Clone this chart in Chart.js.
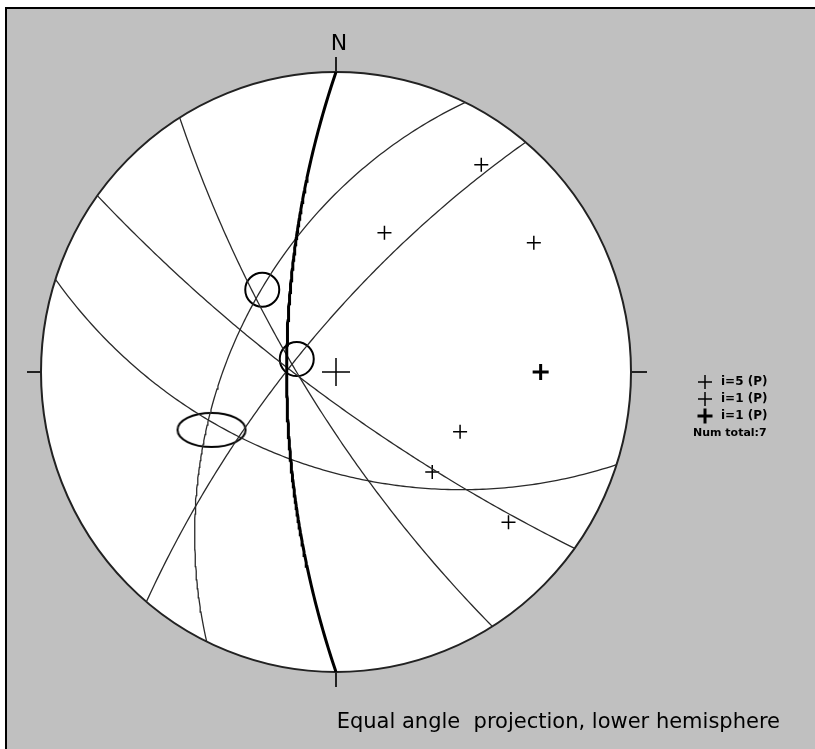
<!DOCTYPE html>
<html>
<head>
<meta charset="utf-8">
<script src="https://cdn.jsdelivr.net/npm/chart.js@4.4.0/dist/chart.umd.min.js"></script>
<style>
  html, body { margin: 0; padding: 0; background: #ffffff; }
  #wrap { position: relative; width: 815px; height: 749px; }
</style>
</head>
<body>
<div id="wrap"><canvas id="net" width="815" height="749"></canvas></div>
<script>
const planeDipDir = [270, 238, 216, 198, 310, 296];
const planeDip = [71, 77, 80, 54, 75, 51];

// poles (trend / plunge) shown as small crosses
const poleTrend = [19.5, 35.5, 57.3, 115.3, 135.6, 130.6];
const polePlunge = [37.6, 9.4, 12.9, 40.1, 40.0, 14.8];

// bold pole
const boldTrend = [90];
const boldPlunge = [20.5];

// intersections marked with circles / ellipse (net coordinates)
const circleMarkX = [-0.25, -0.133];
const circleMarkY = [0.274, 0.043];
const ellipseMarkX = [-0.422];
const ellipseMarkY = [-0.193];

const legendLabels = ['i=5 (P)', 'i=1 (P)', 'i=1 (P)'];
const totalLabel = 'Num total:7';
const northLabel = 'N';
const caption = 'Equal angle  projection, lower hemisphere';

const D2R = Math.PI / 180;

// stereographic (equal angle) projection of a downward unit vector
function project(e, n, z) {
    return { x: e / (1 + z), y: n / (1 + z) };
}

function polePoint(trend, plunge) {
    const t = trend * D2R, p = plunge * D2R;
    return project(Math.cos(p) * Math.sin(t), Math.cos(p) * Math.cos(t), Math.sin(p));
}

function greatCircle(dipDir, dip) {
    const a = dipDir * D2R, d = dip * D2R;
    const s = [Math.sin(a - Math.PI / 2), Math.cos(a - Math.PI / 2), 0];
    const v = [Math.cos(d) * Math.sin(a), Math.cos(d) * Math.cos(a), Math.sin(d)];
    const pts = [];
    for (let k = 0; k <= 180; k++) {
        const t = k * D2R;
        const e = Math.cos(t) * s[0] + Math.sin(t) * v[0];
        const n = Math.cos(t) * s[1] + Math.sin(t) * v[1];
        const z = Math.cos(t) * s[2] + Math.sin(t) * v[2];
        pts.push(project(e, n, Math.max(z, 0)));
    }
    return pts;
}

// ellipse image used as point style
const ellipseImg = document.createElement('canvas');
ellipseImg.width = 74;
ellipseImg.height = 38;
(function () {
    const c = ellipseImg.getContext('2d');
    c.strokeStyle = '#000';
    c.lineWidth = 2;
    c.beginPath();
    c.ellipse(37, 19, 34, 17, 0, 0, Math.PI * 2);
    c.stroke();
})();

const datasets = [];
planeDipDir.forEach((dd, i) => {
    datasets.push({
        data: greatCircle(dd, planeDip[i]),
        showLine: true,
        pointRadius: 0,
        borderColor: i === 0 ? '#000000' : '#2a2a2a',
        borderWidth: i === 0 ? 3 : 1.3,
        tension: 0
    });
});
datasets.push({
    data: poleTrend.map((t, i) => polePoint(t, polePlunge[i])),
    pointStyle: 'cross',
    pointRadius: 7,
    borderWidth: 1.5,
    borderColor: '#000'
});
datasets.push({
    data: boldTrend.map((t, i) => polePoint(t, boldPlunge[i])),
    pointStyle: 'cross',
    pointRadius: 8,
    borderWidth: 3,
    borderColor: '#000'
});
// centre of the net
datasets.push({
    data: [{ x: 0, y: 0 }],
    pointStyle: 'cross',
    pointRadius: 14,
    borderWidth: 1.5,
    borderColor: '#000'
});
datasets.push({
    data: circleMarkX.map((x, i) => ({ x: x, y: circleMarkY[i] })),
    pointStyle: 'circle',
    pointRadius: 17,
    borderWidth: 2,
    borderColor: '#000',
    backgroundColor: 'rgba(0,0,0,0)'
});
datasets.push({
    data: ellipseMarkX.map((x, i) => ({ x: x, y: ellipseMarkY[i] })),
    pointStyle: ellipseImg,
    pointRadius: 17
});

const netPlugin = {
    id: 'net',
    beforeDraw(chart) {
        const ctx = chart.ctx;
        ctx.save();
        ctx.fillStyle = '#ffffff';
        ctx.fillRect(0, 0, chart.width, chart.height);
        ctx.fillStyle = '#c0c0c0';
        ctx.fillRect(7, 9, chart.width - 7, chart.height - 9);
        ctx.fillStyle = '#000000';
        ctx.fillRect(5, 7, chart.width - 5, 2);
        ctx.fillRect(5, 7, 2, chart.height - 7);
        ctx.restore();
    },
    beforeDatasetsDraw(chart) {
        const ctx = chart.ctx;
        const xs = chart.scales.x, ys = chart.scales.y;
        const cx = xs.getPixelForValue(0), cy = ys.getPixelForValue(0);
        const rx = xs.getPixelForValue(1) - cx, ry = cy - ys.getPixelForValue(1);
        ctx.save();
        ctx.fillStyle = '#ffffff';
        ctx.beginPath();
        ctx.ellipse(cx, cy, rx, ry, 0, 0, Math.PI * 2);
        ctx.fill();
        ctx.strokeStyle = '#222222';
        ctx.lineWidth = 2;
        ctx.stroke();
        // N E S W ticks
        ctx.beginPath();
        ctx.moveTo(cx, cy - ry); ctx.lineTo(cx, cy - ry - 15);
        ctx.moveTo(cx, cy + ry); ctx.lineTo(cx, cy + ry + 15);
        ctx.moveTo(cx - rx, cy); ctx.lineTo(cx - rx - 14, cy);
        ctx.moveTo(cx + rx, cy); ctx.lineTo(cx + rx + 16, cy);
        ctx.stroke();
        ctx.fillStyle = '#000000';
        ctx.font = '22px "DejaVu Sans"';
        ctx.textAlign = 'center';
        ctx.textBaseline = 'alphabetic';
        ctx.fillText(northLabel, cx + 3, cy - ry - 22);
        ctx.restore();
    },
    afterDraw(chart) {
        const ctx = chart.ctx;
        ctx.save();
        const lx = 705;
        const rows = [382, 399, 416];
        const styles = [
            { r: 7, w: 1.5 },
            { r: 7, w: 1.5 },
            { r: 7.5, w: 3 }
        ];
        legendLabels.forEach((lbl, i) => {
            ctx.strokeStyle = '#000';
            ctx.lineWidth = styles[i].w;
            Chart.helpers.drawPoint(ctx, { pointStyle: 'cross', radius: styles[i].r, borderWidth: styles[i].w }, lx, rows[i]);
            ctx.fillStyle = '#000';
            ctx.font = 'bold 12px "DejaVu Sans"';
            ctx.textAlign = 'left';
            ctx.textBaseline = 'middle';
            ctx.fillText(lbl, 721, rows[i]);
        });
        ctx.font = 'bold 11px "DejaVu Sans"';
        ctx.fillText(totalLabel, 693, 433);
        ctx.font = '21px "DejaVu Sans"';
        ctx.fillStyle = '#000';
        ctx.textAlign = 'right';
        ctx.textBaseline = 'alphabetic';
        ctx.fillText(caption, 780, 728);
        ctx.restore();
    }
};

new Chart(document.getElementById('net'), {
    type: 'scatter',
    data: { datasets: datasets },
    options: {
        responsive: false,
        animation: false,
        layout: { padding: { left: 41, right: 184, top: 72, bottom: 77 } },
        scales: {
            x: { type: 'linear', min: -1, max: 1, display: false },
            y: { type: 'linear', min: -1, max: 1, display: false }
        },
        plugins: {
            legend: { display: false },
            tooltip: { enabled: false }
        }
    },
    plugins: [netPlugin]
});
</script>
</body>
</html>
